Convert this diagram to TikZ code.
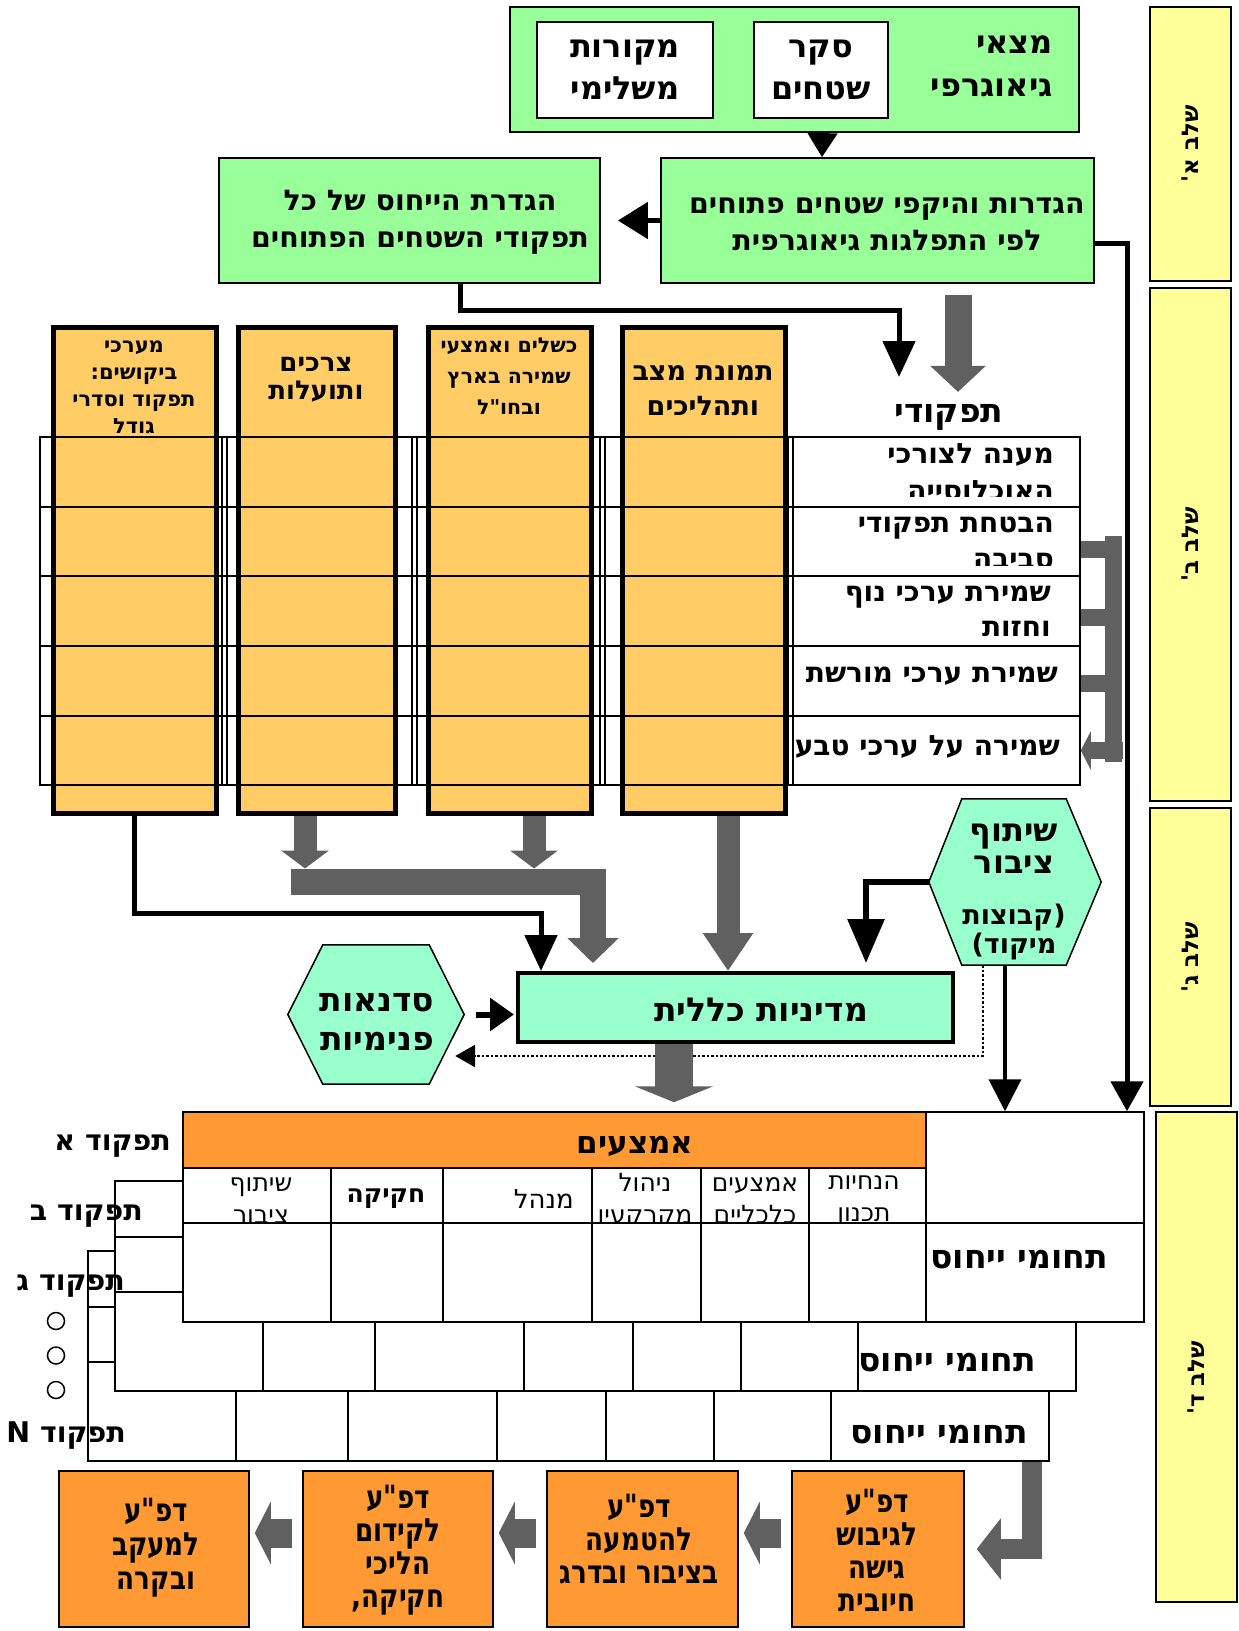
\documentclass[tikz,border=0pt]{standalone}
\usepackage{fontspec}
\usepackage{tikz}
\usetikzlibrary{positioning, fit, arrows.meta}
\newfontfamily\hebfont[Script=Hebrew]{DejaVu Sans}
\newfontfamily\hebnarrow[Script=Hebrew,FakeStretch=0.82]{DejaVu Sans}
\TeXXeTstate=1
\newcommand{\heb}[1]{\beginR#1\endR}
\definecolor{geogreen}{HTML}{99FF99}
\definecolor{aqua}{HTML}{99FFCC}
\definecolor{colorange}{HTML}{FFCC66}
\definecolor{hdrorange}{HTML}{FF9933}
\definecolor{stageyellow}{HTML}{FFFF99}
\definecolor{arrgray}{HTML}{606060}
\tikzset{
    box/.style={draw, line width=1.8pt, inner sep=0pt},
    colbox/.style={draw, line width=5pt, fill=colorange, inner sep=0pt},
    rowbox/.style={draw, line width=1.5pt, inner sep=0pt},
    cell/.style={draw, line width=1.5pt, inner sep=0pt},
    stage/.style={draw, line width=1.5pt, fill=stageyellow, inner sep=0pt},
    dpabox/.style={draw, line width=1.5pt, fill=hdrorange, inner sep=0pt},
    hexbox/.style={inner sep=0pt},
    hexshape/.style={draw, line width=1.5pt, fill=aqua},
    hbold/.style 2 args={font=\hebfont\bfseries\fontsize{#1}{#2}\selectfont, inner sep=0pt, align=center},
    hplain/.style 2 args={font=\hebfont\fontsize{#1}{#2}\selectfont, inner sep=0pt, align=center},
    hnarrow/.style 2 args={font=\hebnarrow\bfseries\fontsize{#1}{#2}\selectfont, inner sep=0pt, align=center},
    line/.style={line width=4pt, -{Triangle[width=30pt,length=30pt]}},
    dotline/.style={line width=2.5pt, dotted, -{Triangle[width=22pt,length=20pt]}},
    grayarrow/.style n args={3}{draw=arrgray, line width=#1, -{Triangle[width=#2,length=#3]}},
    comb/.style={draw=arrgray, line width=17pt}
}
\begin{document}
\begin{tikzpicture}[x=1pt, y=-1pt]
\useasboundingbox (0,0) rectangle (1239,1631);

% Stage 1 boxes
\node[box, fill=geogreen, line width=2pt, fit={(510,7) (1079,132)}] (geo) {};
\node[box, fill=white, line width=2pt, fit={(537,22) (713,118)}] (sources) {};
\node[box, fill=white, line width=2pt, fit={(754,22) (888,118)}] (survey) {};
\node[hbold={32}{43}, anchor=east, align=right] (geoT) at (1053,66) {\heb{מצאי}\\\heb{גיאוגרפי}};
\node[hbold={32}{42}] (surveyT) at (survey.center) {\heb{סקר}\\\heb{שטחים}};
\node[hbold={32}{42}] (sourcesT) at (sources.center) {\heb{מקורות}\\\heb{משלימי}};

\node[box, fill=geogreen, fit={(661,158) (1094,283)}] (defs) {};
\node[box, fill=geogreen, fit={(219,158) (600,283)}] (rel) {};
\node[hbold={28.5}{37}] (defsT) at (887,224) {\heb{הגדרות והיקפי שטחים פתוחים}\\\heb{לפי התפלגות גיאוגרפית}};
\node[hbold={28.5}{37}] (relT) at (420,222) {\heb{הגדרת הייחוס של כל}\\\heb{תפקודי השטחים הפתוחים}};
\node[hbold={33}{38}] (func) at (949,417) {\heb{תפקודי}};
\coordinate (funcin) at (899,377);

% Columns
\node[colbox, fit={(53,327) (216,813)}] (c1) {};
\node[colbox, fit={(238,327) (395,813)}] (c2) {};
\node[colbox, fit={(428,327) (591,813)}] (c3) {};
\node[colbox, fit={(622,327) (785,813)}] (c4) {};

% Rows of functions
\node[rowbox, fit={(40,437) (1080,507)}] (r1) {};
\node[rowbox, fit={(40,507) (1080,576)}] (r2) {};
\node[rowbox, fit={(40,576) (1080,646)}] (r3) {};
\node[rowbox, fit={(40,646) (1080,716)}] (r4) {};
\node[rowbox, fit={(40,716) (1080,785)}] (r5) {};
\foreach \gx in {222,227,412,417,600,605,788,793}
    \draw[line width=1.2pt] (\gx,0 |- r1.north) -- (\gx,0 |- r5.south);

\node[hbold={21}{27}] (c1T) at (134,387) {\heb{מערכי}\\\heb{ביקושים:}\\\heb{תפקוד וסדרי}\\\heb{גודל}};
\node[hbold={26}{28}] (c2T) at (316,380) {\heb{צרכים}\\\heb{ותועלות}};
\node[hbold={20.5}{31}] (c3T) at (509,376) {\heb{כשלים ואמצעי}\\\heb{שמירה בארץ}\\\heb{ובחו"ל}};
\node[hbold={27}{35}] (c4T) at (703,391) {\heb{תמונת מצב}\\\heb{ותהליכים}};

\begin{scope}
    \clip (r1.north west) rectangle ([yshift=11pt]r1.south east);
    \node[hbold={28}{37}, anchor=east, align=right] (r1T) at (1054,472) {\heb{מענה לצורכי}\\\heb{האוכלוסייה}};
\end{scope}
\begin{scope}
    \clip (r2.north west) rectangle ([yshift=11pt]r2.south east);
    \node[hbold={28}{36}, anchor=east, align=right] (r2T) at (1054,543) {\heb{הבטחת תפקודי}\\\heb{סביבה}};
\end{scope}
\node[hbold={28}{35}, anchor=east, align=right] (r3T) at (1051,611) {\heb{שמירת ערכי נוף}\\\heb{וחזות}};
\node[hbold={28}{35}, anchor=east] (r4T) at (1058,676) {\heb{שמירת ערכי מורשת}};
\node[hbold={28}{35}, anchor=east] (r5T) at (1060,747) {\heb{שמירה על ערכי טבע}};

% Policy and hexagons
\node[box, line width=4pt, fill=aqua, fit={(518,973) (953,1042)}] (policy) {};
\node[hbold={33}{38}] (policyT) at (761,1010) {\heb{מדיניות כללית}};

\node[hexbox, fit={(929,799) (1101,965)}] (pub) {};
\draw[hexshape] (pub.west) -- ([xshift=33pt]pub.north west) -- ([xshift=-35pt]pub.north east) -- (pub.east)
    -- ([xshift=-35pt]pub.south east) -- ([xshift=33pt]pub.south west) -- cycle;
\node[hbold={32}{32}] (pubT) at (1014,849) {\heb{שיתוף}\\\heb{ציבור}};
\node[hbold={27}{29}] (pubT2) at (1014,932) {\heb{(קבוצות}\\\heb{מיקוד)}};

\node[hexbox, fit={(288,945) (464,1084)}] (ws) {};
\draw[hexshape] (ws.west) -- ([xshift=35pt]ws.north west) -- ([xshift=-35pt]ws.north east) -- (ws.east)
    -- ([xshift=-35pt]ws.south east) -- ([xshift=35pt]ws.south west) -- cycle;
\node[hbold={33}{39}] (wsT) at (377,1022) {\heb{סדנאות}\\\heb{פנימיות}};

% Table of means, one layer per function
\foreach \lay/\dx/\dy in {C/-95/139, B/-68/69, A/0/0} {
    \begin{scope}[shift={(\dx,\dy)}]
        \node[cell, fill=white, fit={(183,1112) (1144,1322)}] (tbl\lay) {};
        \draw[line width=1.5pt] (183,1168) -- (1144,1168) (183,1223) -- (1144,1223);
        \foreach \cx in {331,443,592,701,809}
            \draw[line width=1.5pt] (\cx,1168) -- (\cx,1322);
        \draw[line width=1.5pt] (926,1112) -- (926,1322);
    \end{scope}
}
\node[cell, fill=hdrorange, fit={(183,1112) (926,1168)}] (hdr) {};
\node[cell, fill=white, fit={(926,1112) (1144,1223)}] (hdrR) {};
\node[hbold={31}{36}] (hdrT) at (635,1146) {\heb{אמצעים}};

\begin{scope}
    \clip (183,1168) rectangle (331,1222);
    \node[hplain={25}{32}] (sh1) at (261,1201) {\heb{שיתוף}\\\heb{ציבור}};
\end{scope}
\node[hbold={25}{30}] (sh2) at (386,1199) {\heb{חקיקה}};
\node[hplain={26}{30}, anchor=east] (sh3) at (574,1199) {\heb{מנהל}};
\begin{scope}
    \clip (592,1168) rectangle (701,1222);
    \node[hplain={25}{32}] (sh4) at (645,1201) {\heb{ניהול}\\\heb{מקרקעין}};
\end{scope}
\begin{scope}
    \clip (701,1168) rectangle (809,1222);
    \node[hplain={25}{32}] (sh5) at (755,1201) {\heb{אמצעים}\\\heb{כלכליים}};
\end{scope}
\begin{scope}
    \clip (809,1168) rectangle (926,1222);
    \node[hplain={25}{32}] (sh6) at (864,1201) {\heb{הנחיות}\\\heb{תכנון}};
\end{scope}

\node[hbold={33}{38}, anchor=east] (refA) at (1108,1260) {\heb{תחומי ייחוס}};
\node[hbold={33}{38}, anchor=east] (refB) at (1036,1363) {\heb{תחומי ייחוס}};
\node[hbold={33}{38}, anchor=east] (refC) at (1028,1435) {\heb{תחומי ייחוס}};

\node[hbold={28.5}{32}, anchor=east] (fA) at (171,1146) {\heb{תפקוד א}};
\node[hbold={28.5}{32}, anchor=east] (fB) at (143,1216) {\heb{תפקוד ב}};
\node[hbold={28.5}{32}, anchor=east] (fC) at (125,1286) {\heb{תפקוד ג}};
\node[hbold={28.5}{32}, anchor=east] (fN) at (126,1436) {\heb{תפקוד N}};
\node[draw, line width=1.5pt, circle, minimum size=17pt, inner sep=0pt] (dot1) at (56,1321) {};
\node[draw, line width=1.5pt, circle, minimum size=17pt, inner sep=0pt, below=16pt of dot1] (dot2) {};
\node[draw, line width=1.5pt, circle, minimum size=17pt, inner sep=0pt, below=16pt of dot2] (dot3) {};

% Work plans
\node[dpabox, fit={(792,1471) (964,1627)}] (dpa1) {};
\node[dpabox, fit={(547,1471) (738,1627)}] (dpa2) {};
\node[dpabox, fit={(303,1471) (493,1627)}] (dpa3) {};
\node[dpabox, fit={(59,1471) (249,1627)}] (dpa4) {};
\node[hnarrow={32}{33}] (dpa1T) at (877,1550) {\heb{דפ"ע}\\\heb{לגיבוש}\\\heb{גישה}\\\heb{חיובית}};
\node[hnarrow={32}{33}] (dpa2T) at (639,1539) {\heb{דפ"ע}\\\heb{להטמעה}\\\heb{בציבור ובדרג}};
\node[hnarrow={32}{33}] (dpa3T) at (398,1550) {\heb{דפ"ע}\\\heb{לקידום}\\\heb{הליכי}\\\heb{חקיקה,}};
\node[hnarrow={32}{34}] (dpa4T) at (156,1548) {\heb{דפ"ע}\\\heb{למעקב}\\\heb{ובקרה}};

% Stages
\node[stage, fit={(1150,7) (1231,281)}] (stA) {};
\node[stage, fit={(1150,288) (1231,801)}] (stB) {};
\node[stage, fit={(1150,808) (1231,1106)}] (stC) {};
\node[stage, fit={(1156,1112) (1237,1602)}] (stD) {};
\node[hbold={23}{26}, rotate=90] (stAT) at (stA.center) {\heb{שלב א'}};
\node[hbold={23}{26}, rotate=90] (stBT) at (stB.center) {\heb{שלב ב'}};
\node[hbold={23}{26}, rotate=90] (stCT) at (stC.center) {\heb{שלב ג'}};
\node[hbold={23}{26}, rotate=90] (stDT) at ([yshift=-21pt]stD.center) {\heb{שלב ד'}};

% Black connectors
\draw[line width=2pt, -{Triangle[width=30pt,length=24pt]}] ([xshift=28pt]geo.south) -- ([xshift=-55.5pt]defs.north);
\draw[line, line width=5pt, shorten >=17pt, -{Triangle[width=36pt,length=30pt]}] (defs.west) -- (rel.east);
\draw[line, line width=5pt, -{Triangle[width=32pt,length=30pt]}] ([yshift=-22.5pt]defs.east) -| ([xshift=92pt]hdrR.north);
\draw[line, line width=5pt, -{Triangle[width=32pt,length=36pt]}] ([xshift=50.5pt]rel.south) -- ++(0,27) -| (funcin);
\draw[line, line width=5pt, -{Triangle[width=32pt,length=36pt]}] (c1.south) -- ++(0,98) -| ([xshift=-194.5pt]policy.north);
\draw[line, line width=6pt, -{Triangle[width=36pt,length=44pt]}] (pub.west) -| ([xshift=130.5pt,yshift=8pt]policy.north);
\draw[line, -{Triangle[width=32pt,length=32pt]}] ([xshift=-10pt]pub.south) -- ([xshift=-30pt]hdrR.north);
\draw[dotline] ([xshift=-32pt]pub.south) |- ([xshift=-9pt,yshift=-41.5pt]ws.east);
\draw[line, line width=6pt, shorten >=2pt, -{Triangle[width=32pt,length=24pt]}] ([xshift=12pt]ws.east) -- (ws.east -| policy.west);

% Gray block arrows
\draw[grayarrow={27pt}{54pt}{26pt}] ([xshift=80.5pt,yshift=-11pt]defs.south) -- ++(0,97);
\draw[grayarrow={23pt}{47pt}{18pt}] ([xshift=-11.5pt]c2.south) -- ++(0,53);
\draw[grayarrow={23pt}{47pt}{18pt}] ([xshift=24.5pt]c3.south) -- ++(0,53);
\coordinate (mergeL) at (291,882);
\draw[grayarrow={26pt}{50pt}{25pt}] (mergeL) -| ([xshift=-142.5pt,yshift=8pt]policy.north);
\draw[grayarrow={23pt}{48pt}{38pt}] ([xshift=24.5pt]c4.south) -- ([xshift=-7.5pt]policy.north);
\draw[grayarrow={38pt}{78pt}{16pt}] ([xshift=-61.5pt]policy.south) -- ([xshift=119.5pt,yshift=9pt]hdr.north);
\draw[comb] (1113.5,536) -- (1113.5,762);
\draw[comb] ([yshift=-8pt]r2.east) -- ++(33,0);
\draw[comb] ([yshift=-6pt]r3.east) -- ++(33,0);
\draw[comb] ([yshift=-2pt]r4.east) -- ++(33,0);
\draw[comb, -{Triangle[width=38pt,length=10pt]}] ([xshift=42pt]r5.east) -- (r5.east);
\draw[grayarrow={20pt}{60pt}{24pt}] ([xshift=463.5pt]tblC.south) |- ([xshift=12pt]dpa1.east);
\draw[grayarrow={29pt}{62pt}{16pt}] ([xshift=-10pt,yshift=16pt]dpa1.west) -- ([xshift=5pt,yshift=16pt]dpa2.east);
\draw[grayarrow={29pt}{62pt}{16pt}] ([xshift=-10pt,yshift=16pt]dpa2.west) -- ([xshift=5pt,yshift=16pt]dpa3.east);
\draw[grayarrow={29pt}{62pt}{16pt}] ([xshift=-10pt,yshift=16pt]dpa3.west) -- ([xshift=5pt,yshift=16pt]dpa4.east);
\end{tikzpicture}
\end{document}
